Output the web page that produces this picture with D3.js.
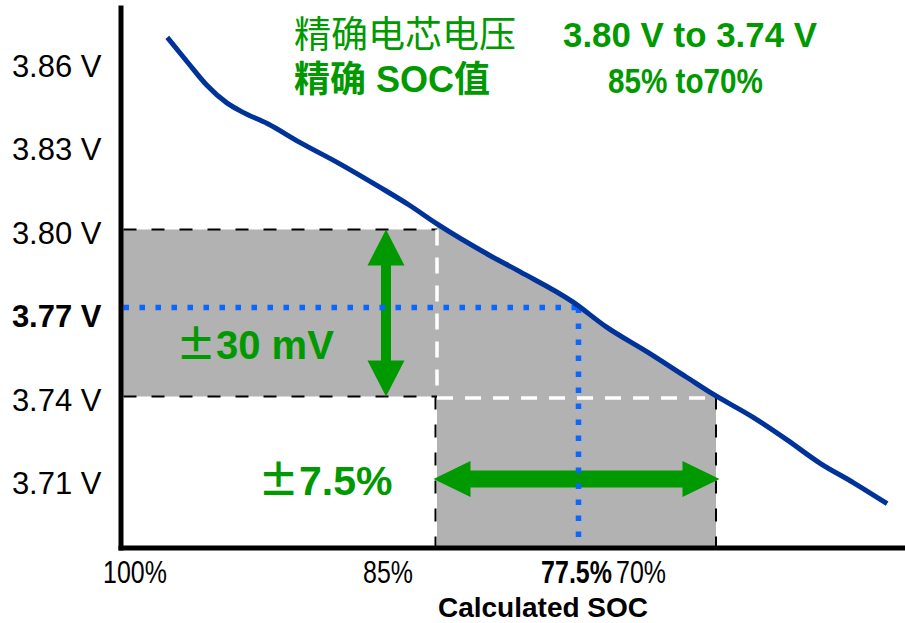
<!DOCTYPE html>
<html>
<head>
<meta charset="utf-8">
<script src="https://cdn.jsdelivr.net/npm/d3@7"></script>
<style>
  body { margin: 0; background: #fff; }
  svg { display: block; }
</style>
</head>
<body>
<svg id="chart" width="905" height="623"></svg>
<script>
// Cell discharge curve: calculated SOC (%) against cell voltage (V)
const socValues     = [99.5, 98.4, 97.4, 96.3, 95.4, 94.1, 92.4, 90.2, 88.1, 86.5, 85.0,
                       82.3, 80.5, 77.7, 75.9, 73.7, 71.6, 70.2, 68.0, 66.2, 64.4, 62.6, 60.8];
const voltageValues = [3.869, 3.860, 3.852, 3.8455, 3.842, 3.838, 3.8314, 3.8235, 3.8153, 3.8088, 3.802,
                       3.7912, 3.7847, 3.774, 3.765, 3.756, 3.747, 3.741, 3.7325, 3.7245, 3.716, 3.709, 3.7015];

// Axis ticks
const yTickValues = [3.86, 3.83, 3.80, 3.77, 3.74, 3.71];
const yTickLabels = ["3.86 V", "3.83 V", "3.80 V", "3.77 V", "3.74 V", "3.71 V"];
const yTickBold   = 3.77;
const xTickValues = [100, 85, 70];
const xTickLabels = ["100%", "85%", "70%"];
const xAxisTitle  = "Calculated SOC";

// Measurement window and the reading inside it
const voltageWindow = [3.74, 3.80];
const socWindow     = [85, 70];
const markSoc       = 77.5;
const markSocLabel  = "77.5%";
const markVoltage   = 3.772;
const voltageSpread = "30 mV";
const socSpread     = "7.5%";

// Headline
const headLines = [
  { name: "精确电芯电压", value: "3.80 V to 3.74 V" },
  { name: "精确 SOC值",   value: "85% to70%" }
];

const GREEN = "#009900", GRAY = "#b1b2b1", CURVE = "#003399", DOT = "#0a66ff";
const LATIN = "'Liberation Sans', Arial, Helvetica, sans-serif";
const CJK = "'Liberation Sans', Arial, 'Noto Sans CJK SC', sans-serif";

const svg = d3.select("#chart");

// Scales
const x = d3.scaleLinear().domain([100, 60]).range([158, 902]);
const y = d3.scaleLinear().domain([3.74, 3.80]).range([396.5, 229.5]);
const axisLeftX = 120.5, axisTop = 5, axisBottomY = 547.5, axisRight = 905;
// tick labels of the SOC axis sit on their own spacing
const xLabel = d3.scaleLinear().domain([100, 70]).range([135, 641]);

const curve = socValues.map((s, i) => ({ soc: s, v: voltageValues[i] }));

// voltage on the curve at a given SOC
function curveAt(soc) {
  for (let i = 0; i < curve.length - 1; i++) {
    const a = curve[i], b = curve[i + 1];
    if (soc <= a.soc && soc >= b.soc) {
      const t = (a.soc - soc) / (a.soc - b.soc);
      return a.v + t * (b.v - a.v);
    }
  }
  return curve[curve.length - 1].v;
}

const [vLow, vHigh] = voltageWindow;
const [sHigh, sLow] = socWindow;

// Shaded window: voltage band to the left, area under the curve across the SOC window
svg.append("rect")
  .attr("x", axisLeftX).attr("y", y(vHigh))
  .attr("width", x(sHigh) - axisLeftX).attr("height", y(vLow) - y(vHigh))
  .attr("fill", GRAY);

const underCurve = [{ soc: sHigh, v: curveAt(sHigh) }]
  .concat(curve.filter(d => d.soc < sHigh && d.soc > sLow))
  .concat([{ soc: sLow, v: curveAt(sLow) }]);
svg.append("path")
  .datum(underCurve)
  .attr("d", d3.area().x(d => x(d.soc)).y0(axisBottomY).y1(d => y(d.v)).curve(d3.curveMonotoneX))
  .attr("fill", GRAY);

// Dashed outlines
const black = svg.append("g").attr("stroke", "#000").attr("stroke-width", 2).attr("stroke-dasharray", "13 15").attr("fill", "none");
black.append("line").attr("x1", axisLeftX + 3).attr("x2", x(sHigh)).attr("y1", y(vHigh)).attr("y2", y(vHigh));
black.append("line").attr("x1", axisLeftX + 3).attr("x2", x(sHigh)).attr("y1", y(vLow)).attr("y2", y(vLow));
black.append("line").attr("x1", x(sHigh) - 1.5).attr("x2", x(sHigh) - 1.5).attr("y1", y(vLow)).attr("y2", axisBottomY);
black.append("line").attr("x1", x(sLow)).attr("x2", x(sLow)).attr("y1", y(vLow)).attr("y2", axisBottomY);

const white = svg.append("g").attr("stroke", "#fff").attr("stroke-width", 3.5).attr("stroke-dasharray", "16 12").attr("fill", "none");
white.append("line").attr("x1", x(sHigh)).attr("x2", x(sHigh)).attr("y1", y(vHigh)).attr("y2", y(vLow));
white.append("line").attr("x1", x(sHigh)).attr("x2", x(sLow)).attr("y1", y(vLow) + 1.5).attr("y2", y(vLow) + 1.5);

// Double-headed arrows
function hArrow(x1, x2, cy, head, halfHead, halfShaft) {
  return d3.line()([
    [x1, cy], [x1 + head, cy - halfHead], [x1 + head, cy - halfShaft], [x2 - head, cy - halfShaft],
    [x2 - head, cy - halfHead], [x2, cy], [x2 - head, cy + halfHead], [x2 - head, cy + halfShaft],
    [x1 + head, cy + halfShaft], [x1 + head, cy + halfHead]
  ]) + "Z";
}
function vArrow(cx, y1, y2, head, halfHead, halfShaft) {
  return d3.line()([
    [cx, y1], [cx + halfHead, y1 + head], [cx + halfShaft, y1 + head], [cx + halfShaft, y2 - head],
    [cx + halfHead, y2 - head], [cx, y2], [cx - halfHead, y2 - head], [cx - halfShaft, y2 - head],
    [cx - halfShaft, y1 + head], [cx - halfHead, y1 + head]
  ]) + "Z";
}
svg.append("path").attr("d", vArrow(386, y(vHigh), y(vLow), 36, 18.5, 5)).attr("fill", GREEN);
svg.append("path").attr("d", hArrow(x(sHigh) - 3.5, x(sLow) + 3.5, 479, 37, 18, 8.5)).attr("fill", GREEN);

// Dotted reading lines
const dots = svg.append("g").attr("stroke", DOT).attr("stroke-width", 5.5).attr("stroke-dasharray", "5.5 10.5").attr("fill", "none");
dots.append("line").attr("x1", axisLeftX + 3).attr("x2", x(markSoc)).attr("y1", y(markVoltage)).attr("y2", y(markVoltage));
dots.append("line").attr("x1", x(markSoc) + 2).attr("x2", x(markSoc) + 2).attr("y1", y(markVoltage)).attr("y2", axisBottomY - 3);

// Discharge curve
svg.append("path")
  .datum(curve)
  .attr("d", d3.line().x(d => x(d.soc)).y(d => y(d.v)).curve(d3.curveMonotoneX))
  .attr("fill", "none").attr("stroke", CURVE).attr("stroke-width", 5)
  .attr("stroke-linejoin", "round").attr("stroke-linecap", "butt");

// Voltage axis
const yAxisScale = y.copy().domain([y.invert(axisBottomY + 2.5), y.invert(axisTop)]).range([axisBottomY + 2.5, axisTop]);
const yAxis = svg.append("g")
  .attr("transform", `translate(${axisLeftX},0)`)
  .call(d3.axisLeft(yAxisScale).tickValues(yTickValues).tickSize(0).tickSizeOuter(0).tickPadding(19)
    .tickFormat((d, i) => yTickLabels[i]));
yAxis.select(".domain").attr("stroke", "#000").attr("stroke-width", 5);
yAxis.selectAll("text")
  .attr("dy", null).attr("y", 13.5)
  .attr("fill", "#000")
  .style("font-family", LATIN).style("font-size", "31px")
  .style("font-weight", d => d === yTickBold ? "bold" : "normal");

// SOC axis
const xAxisScale = x.copy().domain([x.invert(axisLeftX - 2.5), x.invert(axisRight)]).range([axisLeftX - 2.5, axisRight]);
const xAxis = svg.append("g")
  .attr("transform", `translate(0,${axisBottomY})`)
  .call(d3.axisBottom(xAxisScale).tickValues([]).tickSizeOuter(0));
xAxis.select(".domain").attr("stroke", "#000").attr("stroke-width", 5);

svg.append("g").selectAll("text")
  .data(xTickValues)
  .join("text")
  .attr("transform", d => `translate(${xLabel(d)},583) scale(0.78,1)`)
  .attr("text-anchor", "middle")
  .style("font-family", LATIN).style("font-size", "32px")
  .text((d, i) => xTickLabels[i]);

svg.append("text")
  .attr("transform", `translate(${x(markSoc)},583) scale(0.78,1)`)
  .attr("text-anchor", "middle")
  .style("font-family", LATIN).style("font-size", "32px").style("font-weight", "bold")
  .text(markSocLabel);

svg.append("text")
  .attr("x", 543).attr("y", 617)
  .attr("text-anchor", "middle")
  .style("font-family", LATIN).style("font-size", "28px").style("font-weight", "bold")
  .text(xAxisTitle);

// Spread annotations
function spreadLabel(xPos, yPos, size, body) {
  const t = svg.append("text")
    .attr("x", xPos).attr("y", yPos)
    .attr("fill", GREEN)
    .style("font-family", LATIN).style("font-size", size + "px").style("font-weight", "bold");
  t.append("tspan").style("font-family", "'Noto Sans CJK SC', sans-serif").text("±");
  t.append("tspan").text(body);
}
spreadLabel(176, 359, 40, voltageSpread);
spreadLabel(258, 495, 41, socSpread);

// Headline
svg.append("text")
  .attr("x", 294).attr("y", 48)
  .attr("fill", GREEN)
  .style("font-family", CJK).style("font-size", "37px").style("font-weight", "normal")
  .text(headLines[0].name);
svg.append("text")
  .attr("x", 294).attr("y", 92)
  .attr("fill", GREEN)
  .style("font-family", CJK).style("font-size", "36px").style("font-weight", "bold")
  .text(headLines[1].name);
svg.append("text")
  .attr("x", 563).attr("y", 47)
  .attr("fill", GREEN)
  .attr("textLength", 254).attr("lengthAdjust", "spacingAndGlyphs")
  .style("font-family", LATIN).style("font-size", "35px").style("font-weight", "bold")
  .text(headLines[0].value);
svg.append("text")
  .attr("x", 608).attr("y", 93)
  .attr("fill", GREEN)
  .attr("textLength", 155).attr("lengthAdjust", "spacingAndGlyphs")
  .style("font-family", LATIN).style("font-size", "35px").style("font-weight", "bold")
  .text(headLines[1].value);
</script>
</body>
</html>
